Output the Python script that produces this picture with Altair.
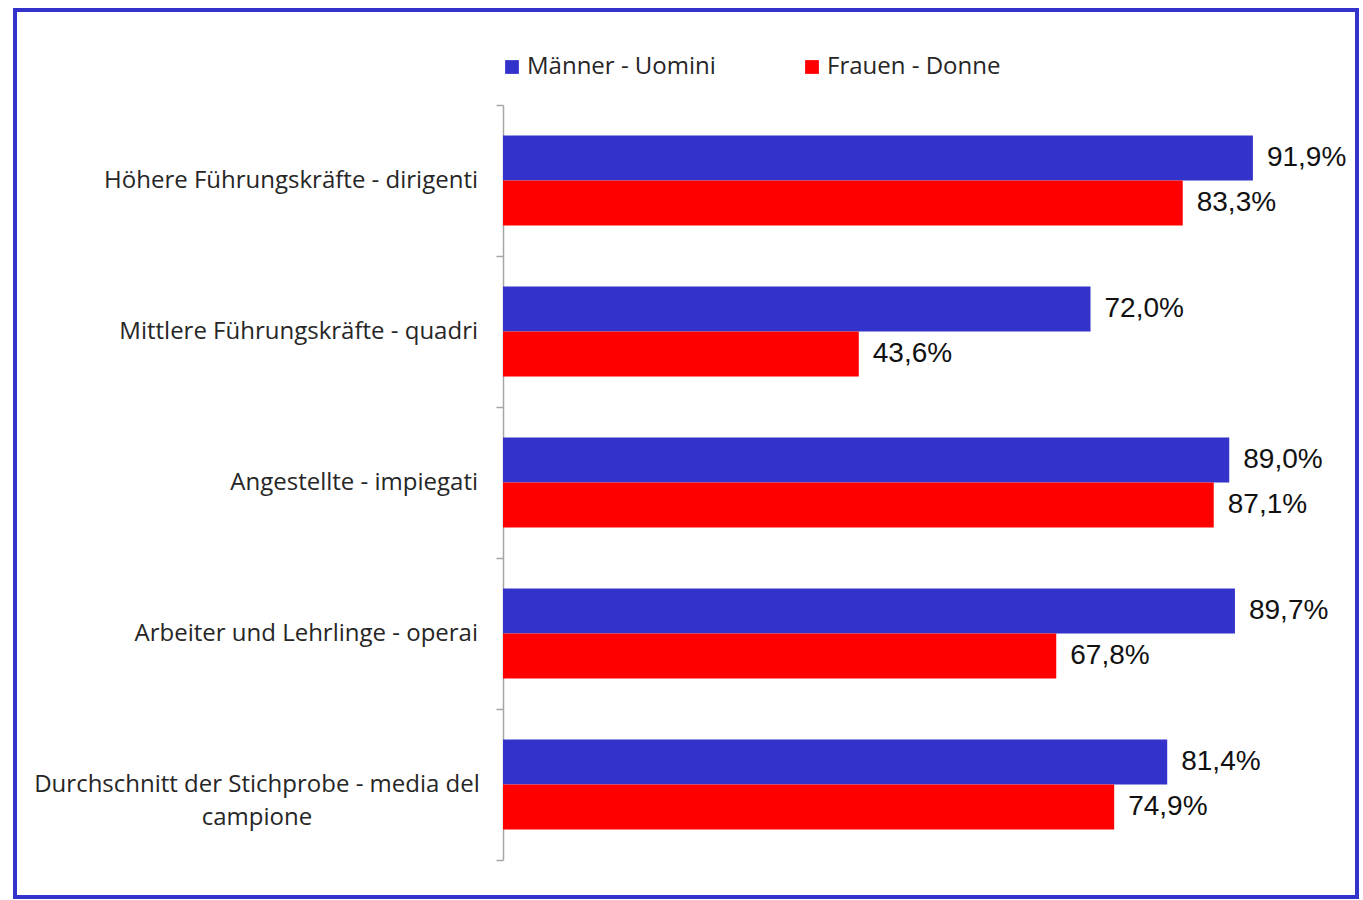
import altair as alt
import pandas as pd

categories = [
    "Höhere Führungskräfte - dirigenti",
    "Mittlere Führungskräfte - quadri",
    "Angestellte - impiegati",
    "Arbeiter und Lehrlinge - operai",
    "Durchschnitt der Stichprobe - media del campione",
]
label_lines = [
    ["Höhere Führungskräfte - dirigenti"],
    ["Mittlere Führungskräfte - quadri"],
    ["Angestellte - impiegati"],
    ["Arbeiter und Lehrlinge - operai"],
    ["Durchschnitt der Stichprobe - media del", "campione"],
]
series = ["Männer - Uomini", "Frauen - Donne"]
men = [91.9, 72.0, 89.0, 89.7, 81.4]
women = [83.3, 43.6, 87.1, 67.8, 74.9]
colors = ["#3333CC", "#FF0000"]

rows = []
for c, m, w in zip(categories, men, women):
    rows.append({"category": c, "series": series[0], "value": m})
    rows.append({"category": c, "series": series[1], "value": w})
df = pd.DataFrame(rows)

lab = pd.DataFrame({"category": categories, "lines": label_lines,
                    "multi": [len(l) > 1 for l in label_lines]})

FONT_L = "Open Sans"
FONT_V = "Liberation Sans"
TXT = "#262626"

yenc = alt.Y("category:N", sort=categories,
             scale=alt.Scale(paddingInner=0, paddingOuter=0),
             axis=alt.Axis(title=None, labels=False, domainColor="#a6a6a6",
                           tickColor="#a6a6a6", tickSize=7, tickBand="extent",
                           domainWidth=1.5, tickWidth=1.5))
yoff = alt.YOffset("series:N", sort=series,
                   scale=alt.Scale(paddingInner=0, paddingOuter=0.68))
xenc = alt.X("value:Q", scale=alt.Scale(domain=[0, 100]), axis=None)

bars = alt.Chart(df).mark_bar().encode(
    x=xenc, y=yenc, yOffset=yoff,
    color=alt.Color("series:N", sort=series,
                    scale=alt.Scale(domain=series, range=colors),
                    legend=alt.Legend(title=None, orient="none", legendX=-3, legendY=-50,
                                      direction="horizontal", symbolType="square",
                                      symbolSize=190, symbolStrokeWidth=0,
                                      labelFont=FONT_L, labelFontSize=24,
                                      labelColor=TXT, columnPadding=84,
                                      labelOffset=3, labelLimit=500)),
)

values = alt.Chart(df).transform_calculate(
    txt="replace(format(datum.value, '.1f'), '.', ',') + '%'"
).mark_text(align="left", baseline="middle", dx=14, font=FONT_V,
            fontSize=28, color="#111111").encode(
    x=xenc, y=alt.Y("category:N", sort=categories), yOffset=yoff,
    text="txt:N",
)

labels_single = alt.Chart(lab).transform_filter("!datum.multi").mark_text(
    align="right", baseline="middle", font=FONT_L, fontSize=24, color=TXT
).encode(x=alt.value(-25), y=alt.Y("category:N", sort=categories), text="lines")

labels_multi = alt.Chart(lab).transform_filter("datum.multi").mark_text(
    align="center", baseline="middle", font=FONT_L, fontSize=24, color=TXT,
    lineHeight=33
).encode(x=alt.value(-246), y=alt.Y("category:N", sort=categories), text="lines")

frame = alt.Chart(pd.DataFrame({"a": [0]})).mark_rect(
    fill=None, stroke="#3333CC", strokeWidth=4
).encode(x=alt.value(-488), x2=alt.value(854), y=alt.value(-95), y2=alt.value(792))

chart = alt.layer(frame, bars, values, labels_single, labels_multi).properties(
    width=816, height=755, background="white",
    padding={"left": 13, "top": 8, "right": 0, "bottom": 0},
).configure_view(strokeWidth=0, stroke=None)

chart.save("out.html", embed_options={"renderer": "svg", "actions": False})
